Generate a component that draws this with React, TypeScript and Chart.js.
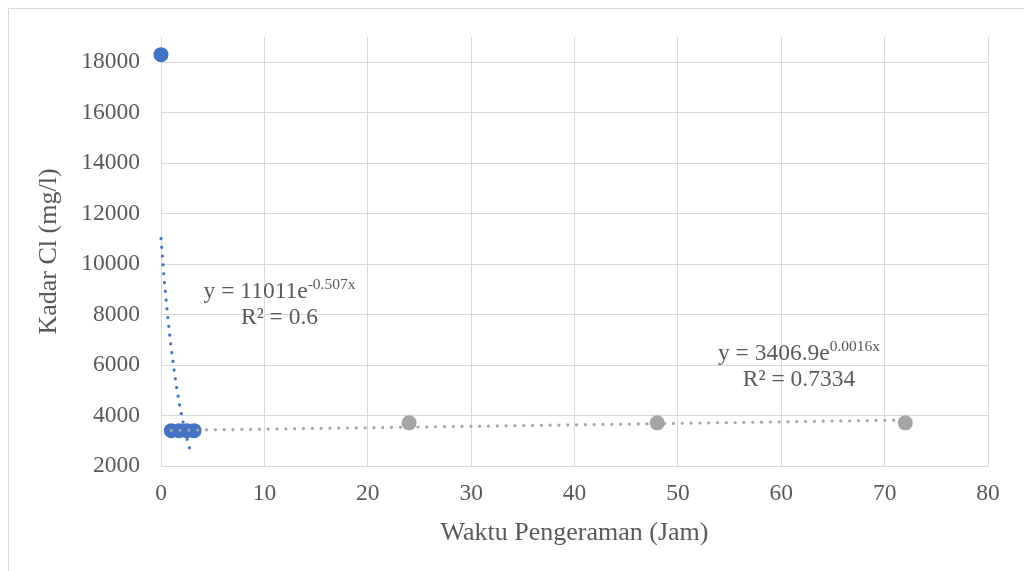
import React, { useEffect, useRef } from "react";
import { Chart, registerables } from "chart.js";

Chart.register(...registerables);

// ---- Data ----
const blueHours = [0, 1, 1.75, 2.5, 3.2];
const blueCl = [18300, 3400, 3400, 3400, 3400];
const grayHours = [24, 48, 72];
const grayCl = [3710, 3710, 3710];

const xTickValues = [0, 10, 20, 30, 40, 50, 60, 70, 80];
const yTickValues = [2000, 4000, 6000, 8000, 10000, 12000, 14000, 16000, 18000];

// Trendline equations as printed on the chart (y = a * e^(b x)) and their x ranges
const blueTrendA = 11011;
const blueTrendB = -0.507;
const blueTrendRange = [0, 3];
const grayTrendA = 3406.9;
const grayTrendB = 0.0016;
const grayTrendRange = [1, 72];

const blueEqMain = "y = 11011e";
const blueEqSup = "-0.507x";
const blueR2 = "R² = 0.6";
const grayEqMain = "y = 3406.9e";
const grayEqSup = "0.0016x";
const grayR2 = "R² = 0.7334";

const xTitle = "Waktu Pengeraman (Jam)";
const yTitle = "Kadar Cl (mg/l)";

const BLUE = "#4472C4";
const GRAY = "#A5A5A5";
const GRID = "#D9D9D9";
const TEXT = "#595959";
const FONT = "'Liberation Serif', 'Times New Roman', serif";

function trendPoints(a: number, b: number, range: number[]) {
  const pts: { x: number; y: number }[] = [];
  const n = 80;
  for (let i = 0; i <= n; i++) {
    const x = range[0] + ((range[1] - range[0]) * i) / n;
    pts.push({ x, y: a * Math.exp(b * x) });
  }
  return pts;
}

const framePlugin = {
  id: "frame",
  beforeDraw(chart: any) {
    const ctx = chart.ctx;
    ctx.save();
    ctx.fillStyle = "#ffffff";
    ctx.fillRect(0, 0, chart.width, chart.height);
    ctx.strokeStyle = GRID;
    ctx.lineWidth = 1;
    ctx.beginPath();
    ctx.moveTo(8.5, chart.height);
    ctx.lineTo(8.5, 8.5);
    ctx.lineTo(chart.width, 8.5);
    ctx.stroke();
    ctx.restore();
  },
};

function drawEquation(
  ctx: CanvasRenderingContext2D,
  main: string,
  sup: string,
  r2: string,
  cx: number,
  baseline: number
) {
  const mainFont = `23.5px ${FONT}`;
  const supFont = `15.5px ${FONT}`;
  ctx.font = mainFont;
  const wMain = ctx.measureText(main).width;
  ctx.font = supFont;
  const wSup = ctx.measureText(sup).width;
  const total = wMain + wSup;
  const left = cx - total / 2;
  ctx.textAlign = "left";
  ctx.textBaseline = "alphabetic";
  ctx.font = mainFont;
  ctx.fillText(main, left, baseline);
  ctx.font = supFont;
  ctx.fillText(sup, left + wMain, baseline - 9);
  ctx.font = mainFont;
  ctx.textAlign = "center";
  ctx.fillText(r2, cx, baseline + 25.5);
}

const labelPlugin = {
  id: "eqLabels",
  afterDatasetsDraw(chart: any) {
    const ctx = chart.ctx;
    ctx.save();
    ctx.fillStyle = TEXT;
    drawEquation(ctx, blueEqMain, blueEqSup, blueR2, 279.5, 298);
    drawEquation(ctx, grayEqMain, grayEqSup, grayR2, 799, 360);
    ctx.restore();
  },
};

export default function App() {
  const canvasRef = useRef<HTMLCanvasElement | null>(null);

  useEffect(() => {
    const canvas = canvasRef.current;
    if (!canvas) return;
    const chart = new Chart(canvas, {
      type: "scatter",
      data: {
        datasets: [
          {
            label: "trend blue",
            data: trendPoints(blueTrendA, blueTrendB, blueTrendRange),
            showLine: true,
            borderColor: BLUE,
            borderWidth: 3.2,
            borderDash: [0.01, 8.8],
            borderCapStyle: "round",
            pointRadius: 0,
            clip: false,
            order: 0,
          } as any,
          {
            label: "trend gray",
            data: trendPoints(grayTrendA, grayTrendB, grayTrendRange),
            showLine: true,
            borderColor: GRAY,
            borderWidth: 3.2,
            borderDash: [0.01, 8.8],
            borderCapStyle: "round",
            pointRadius: 0,
            clip: false,
            order: 0,
          } as any,
          {
            label: "Series 1",
            data: blueHours.map((x, i) => ({ x, y: blueCl[i] })),
            backgroundColor: BLUE,
            borderColor: BLUE,
            pointRadius: 7.5,
            borderWidth: 0,
            clip: false,
            order: 1,
          } as any,
          {
            label: "Series 2",
            data: grayHours.map((x, i) => ({ x, y: grayCl[i] })),
            backgroundColor: GRAY,
            borderColor: GRAY,
            pointRadius: 7.5,
            borderWidth: 0,
            clip: false,
            order: 1,
          } as any,
        ],
      },
      options: {
        responsive: false,
        animation: false,
        layout: { padding: { left: 0, right: 36, top: 37, bottom: 0 } },
        plugins: {
          legend: { display: false },
          tooltip: { enabled: false },
        },
        scales: {
          x: {
            type: "linear",
            min: 0,
            max: 80,
            afterBuildTicks: (scale: any) => {
              scale.ticks = xTickValues.map((v) => ({ value: v }));
            },
            afterFit: (scale: any) => {
              scale.height = 105;
            },
            grid: { color: GRID, lineWidth: 1, drawTicks: false },
            border: { color: GRID, width: 1 },
            ticks: {
              color: TEXT,
              font: { family: FONT, size: 23.5 },
              padding: 14,
              maxRotation: 0,
            },
            title: {
              display: true,
              text: xTitle,
              color: TEXT,
              font: { family: FONT, size: 26 },
              padding: { top: 0, bottom: 22 },
            },
          },
          y: {
            type: "linear",
            min: 2000,
            max: 19000,
            afterBuildTicks: (scale: any) => {
              scale.ticks = yTickValues.map((v) => ({ value: v }));
            },
            afterFit: (scale: any) => {
              scale.width = 161;
            },
            grid: { color: GRID, lineWidth: 1, drawTicks: false },
            border: { color: GRID, width: 1 },
            ticks: {
              color: TEXT,
              font: { family: FONT, size: 23.5 },
              padding: 21,
              callback: (v: any) => String(v),
            },
            title: {
              display: true,
              text: yTitle,
              color: TEXT,
              font: { family: FONT, size: 26 },
              padding: { top: 34, bottom: 0 },
            },
          },
        },
      },
      plugins: [framePlugin, labelPlugin],
    });
    return () => chart.destroy();
  }, []);

  return (
    <div
      style={{
        position: "fixed",
        left: 0,
        top: 0,
        width: 1024,
        height: 571,
        background: "#fff",
      }}
    >
      <canvas ref={canvasRef} width={1024} height={571} style={{ width: 1024, height: 571, display: "block" }} />
    </div>
  );
}
